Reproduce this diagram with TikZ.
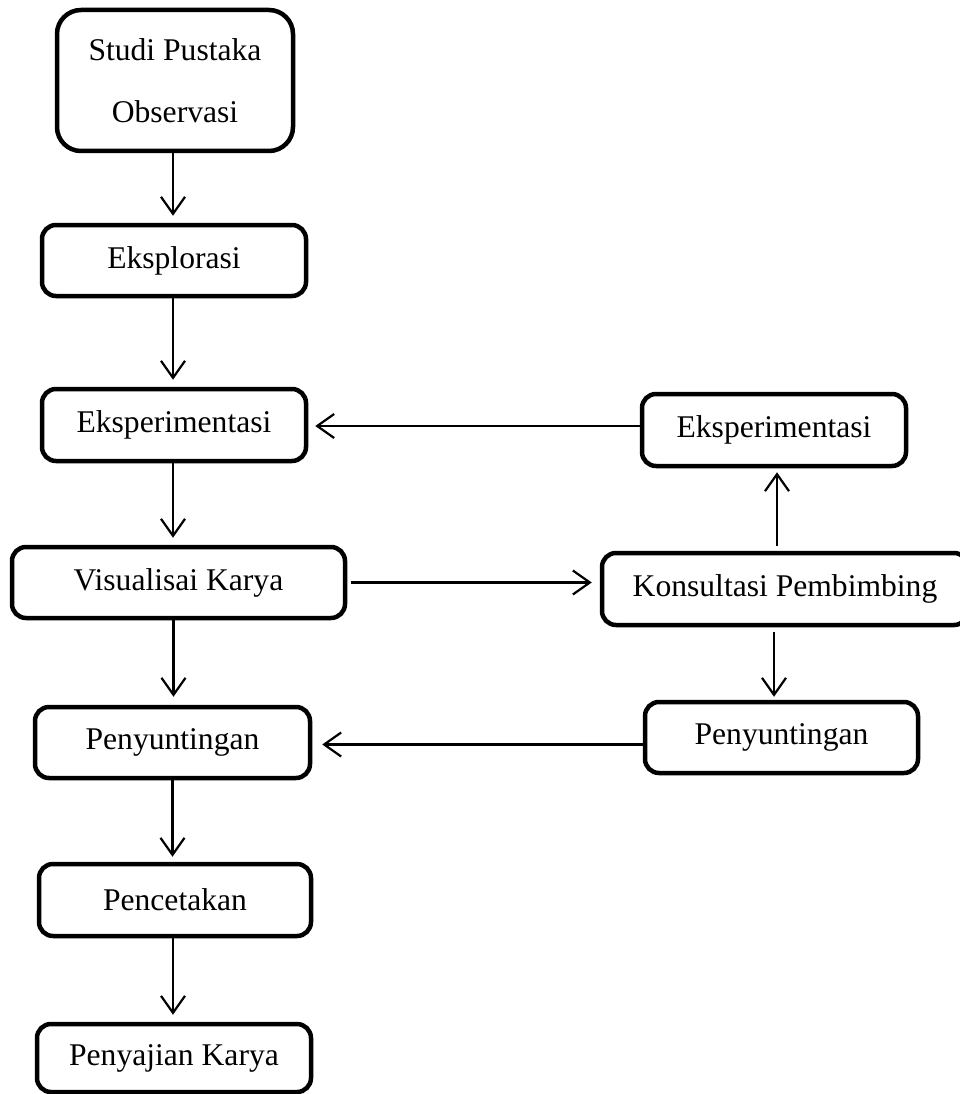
\documentclass[tikz,border=0pt]{standalone}
\usepackage{fontspec}
\setmainfont{Liberation Serif}
\usetikzlibrary{arrows.meta}
\tikzset{
  stepbox/.style={draw=black, line width=4.5pt, rounded corners=14pt, fill=white,
    inner sep=0pt, anchor=center, font=\fontsize{31.6}{38}\selectfont},
  conn/.style={line width=2.2pt, -{Straight Barb[length=17pt,width=24pt,line width=2.2pt]}},
}
\begin{document}
\begin{tikzpicture}[x=1pt,y=-1pt]
\clip (0,0) rectangle (960,1094);
\fill[white] (0,0) rectangle (960,1094);
% left column
\node[stepbox, rounded corners=24pt, minimum width=236pt, minimum height=141pt, align=center,
  font=\fontsize{31.6}{62}\selectfont] (studi) at (175,80.5) {Studi Pustaka\\Observasi};
\node[stepbox, minimum width=264pt, minimum height=71pt] (eksplor) at (174,260.5) {Eksplorasi};
\node[stepbox, minimum width=264pt, minimum height=72pt] (eksL) at (174,425) {Eksperimentasi};
\node[stepbox, minimum width=333pt, minimum height=71pt] (vis) at (178.5,582.5) {Visualisai Karya};
\node[stepbox, minimum width=275pt, minimum height=71pt] (penL) at (172.5,742.5) {Penyuntingan};
\node[stepbox, minimum width=272pt, minimum height=72pt] (cetak) at (175,900) {Pencetakan};
\node[stepbox, minimum width=274pt, minimum height=68pt] (saji) at (174,1058) {Penyajian Karya};
% right column
\node[stepbox, minimum width=264pt, minimum height=72pt] (eksR) at (774,430) {Eksperimentasi};
\node[stepbox, minimum width=366pt, minimum height=72pt] (kons) at (785,589) {Konsultasi Pembimbing};
\node[stepbox, minimum width=273pt, minimum height=71pt] (penR) at (781.5,737.5) {Penyuntingan};
% vertical connectors (left)
\draw[conn, shorten >=7pt] ([xshift=-2pt]studi.south) -- ([xshift=-2pt]studi.south |- eksplor.north);
\draw[conn, shorten >=7pt] ([xshift=-1pt]eksplor.south) -- ([xshift=-1pt]eksplor.south |- eksL.north);
\draw[conn, shorten >=7pt] ([xshift=-1pt]eksL.south) -- ([xshift=-1pt]eksL.south |- vis.north);
\draw[conn, shorten >=8pt] ([xshift=-5pt]vis.south) -- ([xshift=-5pt]vis.south |- penL.north);
\draw[conn, shorten >=5pt] (penL.south) -- (penL.south |- cetak.north);
\draw[conn, shorten >=7pt] ([xshift=-2pt]cetak.south) -- ([xshift=-2pt]cetak.south |- saji.north);
% right side connectors
\draw[conn, shorten >=7pt] ([yshift=4pt]eksR.west) -- ([yshift=4pt]eksR.west -| eksL.east);
\draw[conn, shorten <=4pt, shorten >=8pt] (vis.east) -- (vis.east -| kons.west);
\draw[conn, shorten <=5pt, shorten >=4pt] ([xshift=3pt]eksR.south |- kons.north) -- ([xshift=3pt]eksR.south);
\draw[conn, shorten <=5pt, shorten >=3pt] (eksR.south |- kons.south) -- (eksR.south |- penR.north);
\draw[conn, shorten >=10pt] ([yshift=-7pt]penR.west) -- ([yshift=-7pt]penR.west -| penL.east);
\end{tikzpicture}
\end{document}
